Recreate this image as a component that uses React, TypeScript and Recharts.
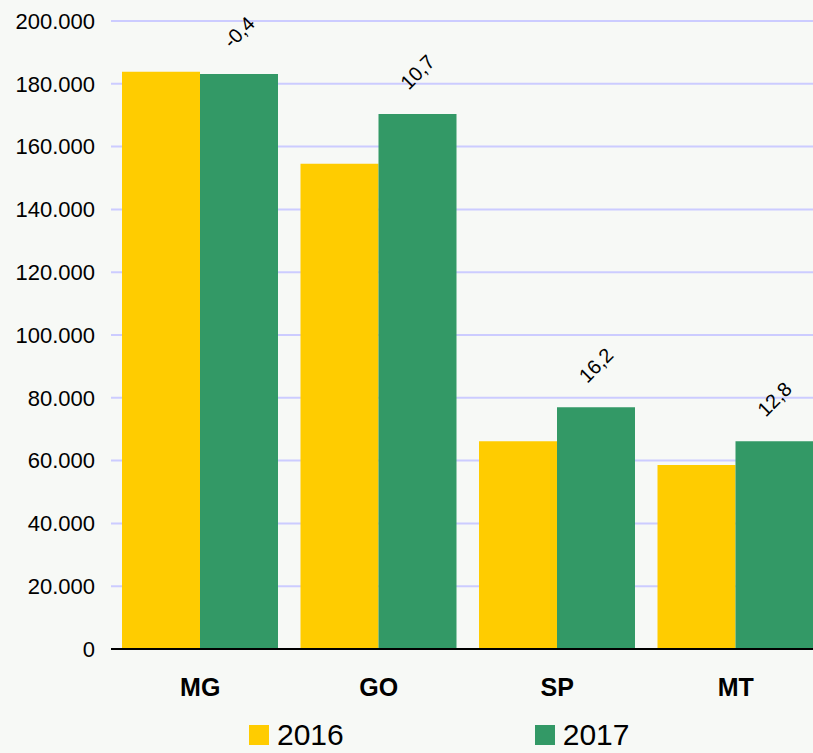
import { BarChart, Bar, XAxis, YAxis, CartesianGrid, Legend, LabelList } from 'recharts';

// Estados e produção (toneladas) – 2016 x 2017
const states = ['MG', 'GO', 'SP', 'MT'];
const values2016 = [183800, 154500, 66200, 58600];
const values2017 = [183100, 170400, 77000, 66200];
const changes = ['-0,4', '10,7', '16,2', '12,8'];
const yTicks = [0, 20000, 40000, 60000, 80000, 100000, 120000, 140000, 160000, 180000, 200000];

const data = states.map((s, i) => ({
  state: s,
  y2016: values2016[i],
  y2017: values2017[i],
  change: changes[i],
}));

const FONT = '"Liberation Sans", Arial, sans-serif';
const YELLOW = '#ffcc00';
const GREEN = '#339966';

const fmt = (v: number) => String(v).replace(/\B(?=(\d{3})+(?!\d))/g, '.');

const ChangeLabel = (props: any) => {
  const { x, y, width, value } = props;
  const cx = x + width / 2;
  const cy = y - 42;
  return (
    <text
      x={cx}
      y={cy}
      textAnchor="middle"
      dominantBaseline="central"
      transform={`rotate(-45 ${cx} ${cy})`}
      fontSize={20}
      fontFamily={FONT}
      fill="#000"
    >
      {value}
    </text>
  );
};

const LegendContent = () => (
  <div style={{ fontFamily: FONT, fontSize: 30, lineHeight: '24px', color: '#000', whiteSpace: 'nowrap' }}>
    <span style={{ display: 'inline-block', marginRight: 191 }}>
      <span style={{ display: 'inline-block', width: 20, height: 20, background: YELLOW, marginRight: 8 }} />
      2016
    </span>
    <span style={{ display: 'inline-block' }}>
      <span style={{ display: 'inline-block', width: 20, height: 20, background: GREEN, marginRight: 8 }} />
      2017
    </span>
  </div>
);

export default function App() {
  return (
    <div
      style={{
        position: 'absolute',
        left: 0,
        top: 0,
        width: 813,
        height: 753,
        overflow: 'hidden',
        background: '#f7f9f6',
      }}
    >
      <BarChart
        width={825}
        height={780}
        data={data}
        margin={{ top: 21, right: 0, left: 0, bottom: 71 }}
        barCategoryGap={11}
        barGap={0}
      >
        <CartesianGrid vertical={false} stroke="#ccccff" strokeWidth={2} />
        <XAxis
          dataKey="state"
          height={60}
          axisLine={{ stroke: '#000', strokeWidth: 2 }}
          tickLine={false}
          tickSize={0}
          tickMargin={29}
          tick={{ fontSize: 25, fontWeight: 'bold', fill: '#000', fontFamily: FONT }}
        />
        <YAxis
          width={111}
          domain={[0, 200000]}
          ticks={yTicks}
          interval={0}
          axisLine={false}
          tickLine={false}
          tickSize={0}
          tickMargin={16}
          tickFormatter={fmt}
          tick={{ fontSize: 22, fill: '#000', fontFamily: FONT }}
        />
        <Legend
          layout="horizontal"
          verticalAlign="middle"
          align="center"
          content={<LegendContent />}
          wrapperStyle={{ top: 723, left: 249, width: 500 }}
        />
        <Bar dataKey="y2016" name="2016" fill={YELLOW} isAnimationActive={false} />
        <Bar dataKey="y2017" name="2017" fill={GREEN} isAnimationActive={false}>
          <LabelList dataKey="change" content={<ChangeLabel />} />
        </Bar>
      </BarChart>
    </div>
  );
}
